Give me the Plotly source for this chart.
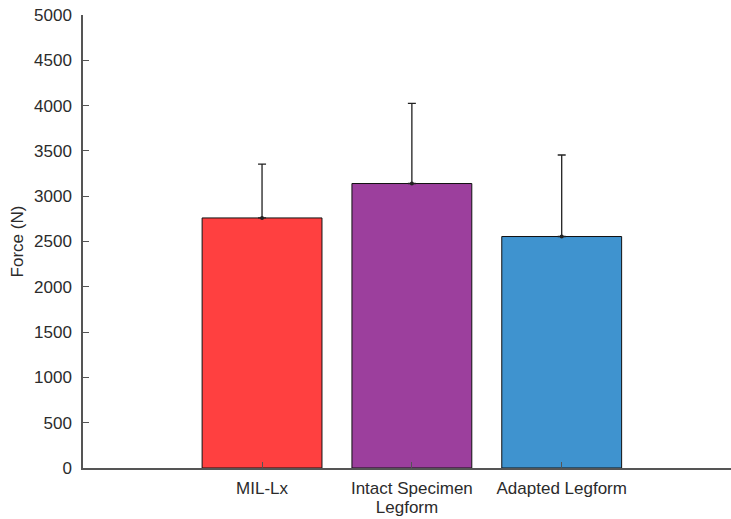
import plotly.graph_objects as go

# Peak force per legform: mean and upper standard deviation
categories = ["MIL-Lx", "Intact Specimen", "Adapted Legform"]
positions = [1, 2, 3]
force_mean = [2760, 3140, 2555]
force_sd = [595, 885, 900]
bar_colors = ["#FF4040", "#9C3F9D", "#3F93CF"]

font_family = "Liberation Sans, Arial, Helvetica, sans-serif"
axis_color = "#555555"
text_color = "#2b2b2b"
font_size = 17

fig = go.Figure()

fig.add_trace(go.Bar(
    x=positions,
    y=force_mean,
    width=0.8,
    marker=dict(color=bar_colors, line=dict(color="#111111", width=1)),
    error_y=dict(
        type="data",
        symmetric=False,
        array=force_sd,
        arrayminus=[0] * len(force_sd),
        color="#222222",
        thickness=1.3,
        width=4,
    ),
    showlegend=False,
    hoverinfo="x+y",
))

# Small mean markers where the error bars start
fig.add_trace(go.Scatter(
    x=positions,
    y=force_mean,
    mode="markers",
    marker=dict(color="#222222", size=4),
    showlegend=False,
    hoverinfo="skip",
))

fig.update_layout(
    width=731,
    height=519,
    margin=dict(l=83, r=0, t=15, b=51),
    paper_bgcolor="white",
    plot_bgcolor="white",
    font=dict(family=font_family, size=font_size, color=text_color),
    bargap=0.2,
)

fig.update_xaxes(
    range=[-0.195, 4.13],
    tickmode="array",
    tickvals=positions,
    ticktext=categories,
    ticks="inside",
    ticklen=6,
    tickcolor=axis_color,
    showline=True,
    linecolor=axis_color,
    linewidth=1.5,
    showgrid=False,
    zeroline=False,
    tickfont=dict(size=font_size, color=text_color),
    ticklabelstandoff=4,
    title=dict(text="Legform", font=dict(size=font_size, color=text_color), standoff=0),
)

fig.update_yaxes(
    range=[0, 5000],
    tickmode="array",
    tickvals=list(range(0, 5001, 500)),
    ticks="inside",
    ticklen=6,
    tickcolor=axis_color,
    showline=True,
    linecolor=axis_color,
    linewidth=1.5,
    showgrid=False,
    zeroline=False,
    tickfont=dict(size=font_size, color=text_color),
    ticklabelstandoff=6,
    title=dict(text="Force (N)", font=dict(size=font_size, color=text_color), standoff=6),
)

fig.write_html("out.html")
